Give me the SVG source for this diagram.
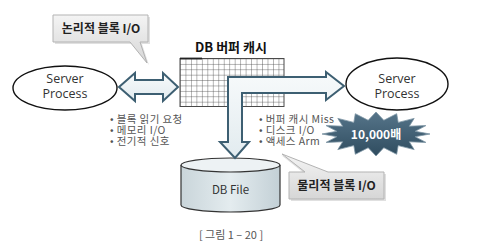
<svg xmlns="http://www.w3.org/2000/svg" width="482" height="249" viewBox="0 0 482 249">
<defs>
<linearGradient id="boxg" x1="0" y1="0" x2="0" y2="1"><stop offset="0" stop-color="#f4f4f4"/><stop offset="1" stop-color="#d6d6d6"/></linearGradient>
<linearGradient id="arrg" x1="0" y1="0" x2="0" y2="1"><stop offset="0" stop-color="#f7fafb"/><stop offset="1" stop-color="#e2ebef"/></linearGradient>
<linearGradient id="cylg" x1="0" y1="0" x2="1" y2="0"><stop offset="0" stop-color="#c9d5da"/><stop offset="0.5" stop-color="#e4ecef"/><stop offset="1" stop-color="#c3d0d6"/></linearGradient>
<linearGradient id="starg" x1="0" y1="0" x2="0" y2="1"><stop offset="0" stop-color="#56758a"/><stop offset="1" stop-color="#2f4c5f"/></linearGradient>
<pattern id="grid" x="180" y="58.5" width="5.47" height="5.4" patternUnits="userSpaceOnUse">
<path d="M0 0H5.47M0 0V5.4" fill="none" stroke="#4a4a4a" stroke-width="0.8"/>
</pattern>
</defs>
<style>
.t{font-family:"Noto Sans CJK KR","Noto Sans",sans-serif;}
.sp{font-size:12.5px;fill:#333;text-anchor:middle;font-family:"Open Sans","Noto Sans CJK KR",sans-serif;}
.bl{font-size:10.5px;fill:#555;letter-spacing:0.4px;}
.cb{font-size:12px;font-weight:bold;fill:#222;text-anchor:middle;}
.box{fill:url(#boxg);stroke:#b3b3b3;stroke-width:1;}
.shadow{fill:#000;opacity:0.12;}
.arr{fill:url(#arrg);stroke:#3d5f72;stroke-width:2;stroke-linejoin:miter;}
.ell{fill:#fff;stroke:#111;stroke-width:1.4;}
</style>
<rect width="482" height="249" fill="#fff"/>

<g id="title">
<text class="t" x="231" y="52" font-size="13" font-weight="bold" fill="#111" text-anchor="middle">DB 버퍼 캐시</text>
</g>

<g id="buffer-cache">
<rect x="180" y="58.5" width="104" height="48" fill="url(#grid)"/>
<rect x="180" y="58.5" width="104" height="48" fill="none" stroke="#4a4a4a" stroke-width="1"/>
<line x1="180" y1="58.5" x2="202" y2="58.5" stroke="#222" stroke-width="1.8"/>
</g>

<g id="server-left">
<ellipse class="ell" cx="65" cy="88" rx="52" ry="22"/>
<text class="sp" x="65" y="83">Server<tspan x="65" dy="15">Process</tspan></text>
</g>

<g id="server-right">
<ellipse class="ell" cx="397" cy="84" rx="51" ry="26"/>
<text class="sp" x="397" y="83">Server<tspan x="397" dy="15">Process</tspan></text>
</g>

<g id="db-file">
<path d="M181 165 V205 A49.5 7 0 0 0 280 205 V165" fill="url(#cylg)" stroke="#333" stroke-width="1.2"/>
<ellipse cx="230.5" cy="165" rx="49.5" ry="7" fill="#edf2f4" stroke="#333" stroke-width="1.2"/>
<text class="t" x="230.5" y="194" font-size="11.5" fill="#333" text-anchor="middle">DB File</text>
</g>

<g id="connectors">
<polygon class="arr" points="119,87 135,73 135,80 163,80 163,73 178,87 163,101 163,94 135,94 135,101"/>
<polygon class="arr" points="228,77 326,77 326,72 344,86 326,100 326,93 242,93 242,142 249,142 235,158 220,142 228,142"/>
</g>

<g id="callout-logical">
<polygon class="shadow" points="55,17 150,17 150,44 142,44 149,65 132,44 55,44"/>
<polygon class="box" points="53,15 148,15 148,42 140,42 147,63 130,42 53,42"/>
<text class="t cb" x="101" y="33">논리적 블록 I/O</text>
</g>

<g id="bullets-left">
<text class="t bl" x="110" y="123">•  블록 읽기 요청<tspan x="110" dy="11">•  메모리 I/O</tspan><tspan x="110" dy="11">•  전기적 신호</tspan></text>
</g>

<g id="bullets-right">
<text class="t bl" x="259" y="123">•  버퍼 캐시 Miss<tspan x="259" dy="11">•  디스크 I/O</tspan><tspan x="259" dy="11">•  액세스 Arm</tspan></text>
</g>

<g id="burst">
<polygon fill="url(#starg)" stroke="#7d95a5" stroke-width="0.8" points="430,134 415.2,136.7 425.9,142.4 409.3,141.8 414.2,149.6 398.2,145.6 396.7,154.3 383.8,147.7 376,156 368.2,147.7 355.3,154.3 353.8,145.6 337.8,149.6 342.7,141.8 326.1,142.4 336.8,136.7 322,134 336.8,131.3 326.1,125.6 342.7,126.2 337.8,118.4 353.8,122.4 355.3,113.7 368.2,120.3 376,112 383.8,120.3 396.7,113.7 398.2,122.4 414.2,118.4 409.3,126.2 425.9,125.6 415.2,131.3"/>
<text class="t" x="376" y="139" font-size="12" font-weight="bold" fill="#fff" text-anchor="middle">10,000배</text>
</g>

<g id="callout-physical">
<polygon class="shadow" points="291,174 305,174 281,155 330,174 386,174 386,201 291,201"/>
<polygon class="box" points="289,172 305,172 282,154 328,172 384,172 384,199 289,199"/>
<text class="t cb" x="336.5" y="190">물리적 블록 I/O</text>
</g>

<g id="caption">
<text class="t" x="231" y="239" font-size="11" fill="#555" text-anchor="middle">[ 그림 1 – 20 ]</text>
</g>
</svg>
